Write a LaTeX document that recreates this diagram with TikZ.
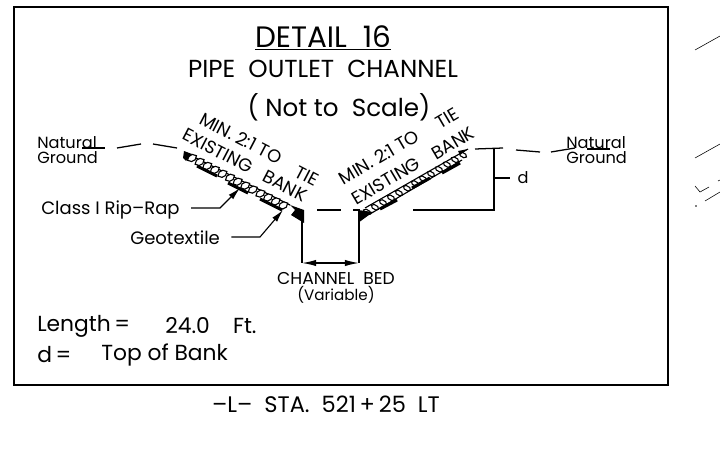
\documentclass[tikz,border=0pt]{standalone}
\usepackage{fontspec}
\setmainfont{Poppins}
\usetikzlibrary{arrows.meta}
\tikzset{
  lbl/.style={inner sep=0pt, font=\fontsize{12.8}{13}\selectfont},
  smalllbl/.style={inner sep=0pt, font=\fontsize{11.5}{12}\selectfont},
  banklbl/.style={inner sep=0pt, font=\fontsize{12.8}{14}\selectfont},
  titlelbl/.style={inner sep=0pt, font=\fontsize{21}{22}\selectfont},
  headlbl/.style={inner sep=0pt, font=\fontsize{17.5}{18}\selectfont},
  notelbl/.style={inner sep=0pt, font=\fontsize{15.5}{17}\selectfont},
  rock/.style={draw, fill=white, line width=0.8pt},
  bar/.style={line width=2.2pt},
  ground/.style={line width=0.9pt},
  leader/.style={line width=0.8pt, -{Latex[length=9pt,width=4.5pt]}, shorten <=8pt},
}
\begin{document}
\begin{tikzpicture}[x=0.025cm,y=-0.025cm]
    \useasboundingbox (0,0) rectangle (720,466);
    \draw[line width=1.2pt] (14,7) rectangle (668,385);

    % titles
    \node[titlelbl] (title) at (323,38) {\underline{DETAIL\ \ 16}};
    \node[headlbl] (subtitle) at (323,69) {PIPE\ \ OUTLET\ \ CHANNEL};
    \node[headlbl] (scalenote) at (339,107) {( Not to\ \ Scale)};

    % left bank text
    \node[banklbl, rotate=-27.5] (leftmin) at (241,138) {MIN. 2:1 TO};
    \node[banklbl, rotate=-27.5] (lefttie) at (307,176) {TIE};
    \node[banklbl, rotate=-27.5] (leftexist) at (218,151) {EXISTING};
    \node[banklbl, rotate=-27.5] (leftbank) at (285,186) {BANK};
    % right bank text
    \node[banklbl, rotate=30.5] (rightmin) at (379,157) {MIN. 2:1 TO};
    \node[banklbl, rotate=30.5] (righttie) at (447,118) {TIE};
    \node[banklbl, rotate=30.5] (rightexist) at (386,181) {EXISTING};
    \node[banklbl, rotate=30.5] (rightbank) at (453,143) {BANK};

    % rip rap, left
    \draw[line width=0.8pt] (186,153) -- (290,205);
    \foreach \i in {0,...,12} {
      \draw[rock, shift={(192+7.6*\i,158+3.95*\i)}, rotate=27] (-5,0) -- (-2,-3) -- (2,-3) -- (5,0) -- (2,3) -- (-2,3) -- cycle;
    }
    \draw[bar] (197,166) -- (217,176);
    \draw[bar] (228,183) -- (248,193);
    \draw[bar] (260,199) -- (282,210);
    \fill (184,151) -- (192,154) -- (186,161) -- (183,158) -- cycle;
    \fill (290,205) -- (304,210) -- (304,223) -- (291,215) -- (295,210) -- cycle;

    % rip rap, right
    \draw[line width=0.8pt] (365,208) -- (468,149);
    \draw[line width=0.8pt] (370,214) -- (462,160);
    \foreach \i in {0,...,12} {
      \draw[rock, shift={(367+8*\i,212-4.75*\i)}, rotate=-30] (-4,0) -- (-2,-2) -- (2,-2) -- (4,0) -- (2,2) -- (-2,2) -- cycle;
    }
    \fill (358,210) -- (373,212) -- (358,223) -- cycle;
    \draw[bar] (380,209) -- (397,200);
    \draw[bar] (412,188) -- (430,178);
    \draw[bar] (442,173) -- (460,163);
    \fill (468,149) -- (458,151) -- (460,155) -- cycle;

    % natural ground
    \node[smalllbl, align=left, anchor=west] (leftground) at (37,150) {Natural\\[-1.5pt]Ground};
    \node[smalllbl, align=left, anchor=west] (rightground) at (566,150) {Natural\\[-1.5pt]Ground};
    \draw[ground] (82,148) -- (105,148);
    \draw[ground] (117,148) -- (141,144);
    \draw[ground] (153,144) -- (177,148);
    \draw[ground] (317,210) -- (341,210);
    \draw[ground] (353,210) -- (360,210);
    \draw[ground] (475,149) -- (503,148);
    \draw[ground] (516,150) -- (540,152);
    \draw[ground] (551,152) -- (575,148);
    \draw[ground] (587,149) -- (610,149);

    % channel
    \coordinate (bedleft) at (302,263);
    \coordinate (bedright) at (359,263);
    \draw[line width=0.8pt] (302,215) -- (bedleft);
    \draw[line width=0.8pt] (359,215) -- (bedright);
    \draw[{Latex[length=10pt,width=4.5pt]}-{Latex[length=10pt,width=4.5pt]}, line width=0.9pt] (bedleft) -- (bedright);
    \node[smalllbl, font=\fontsize{12.2}{13}\selectfont] (bed) at (336,278) {CHANNEL\ \ BED};
    \node[smalllbl, font=\fontsize{10.8}{12}\selectfont] (variable) at (336,295) {(Variable)};

    % depth bracket
    \node[smalllbl] (depth) at (523,178) {d};
    \coordinate (benchtop) at (494,149);
    \coordinate (benchlow) at (494,210);
    \coordinate (benchtoe) at (413,210);
    \coordinate (benchmid) at (494,178);
    \draw[line width=0.8pt] (benchtop) -- (benchlow) -- (benchtoe);
    \draw[line width=0.8pt, shorten >=5pt] (benchmid) -- (depth);

    % leaders
    \node[lbl, anchor=west] (riprap) at (41,210) {Class I Rip--Rap};
    \node[lbl, anchor=west] (geotex) at (130,238) {Geotextile};
    \coordinate (riprapbend) at (220,208);
    \coordinate (riprapend) at (240,188);
    \coordinate (geobend) at (260,237);
    \coordinate (geoend) at (283,210);
    \draw[leader] (riprap.east |- riprapbend) -- (riprapbend) -- (riprapend);
    \draw[leader] (geotex.east |- geobend) -- (geobend) -- (geoend);

    % notes
    \node[notelbl, anchor=west] (lengthlbl) at (37,326) {Length\,=};
    \node[notelbl, anchor=west] (lengthval) at (165,326) {24.0\ \ \ \ Ft.};
    \node[notelbl, anchor=west] (dlbl) at (37,355) {d\,=};
    \node[notelbl, anchor=west] (dval) at (101,355) {Top of Bank};
    \node[notelbl, font=\fontsize{16}{17}\selectfont] (station) at (326,404) {--L--\ \ STA.\ \ 521\,+\,25\ \ LT};

    % marks at the page edge
    \draw[line width=0.4pt] (695,50) -- (720,36);
    \draw[line width=0.4pt] (695,158) -- (720,144);
    \draw[line width=0.4pt] (695,186) -- (700,192) -- (709,187);
    \draw[line width=0.4pt] (705,201) -- (720,192);
    \draw[line width=0.4pt] (718,181) -- (720,180);
    \fill (696,206) circle (0.8);
  \end{tikzpicture}
\end{document}
